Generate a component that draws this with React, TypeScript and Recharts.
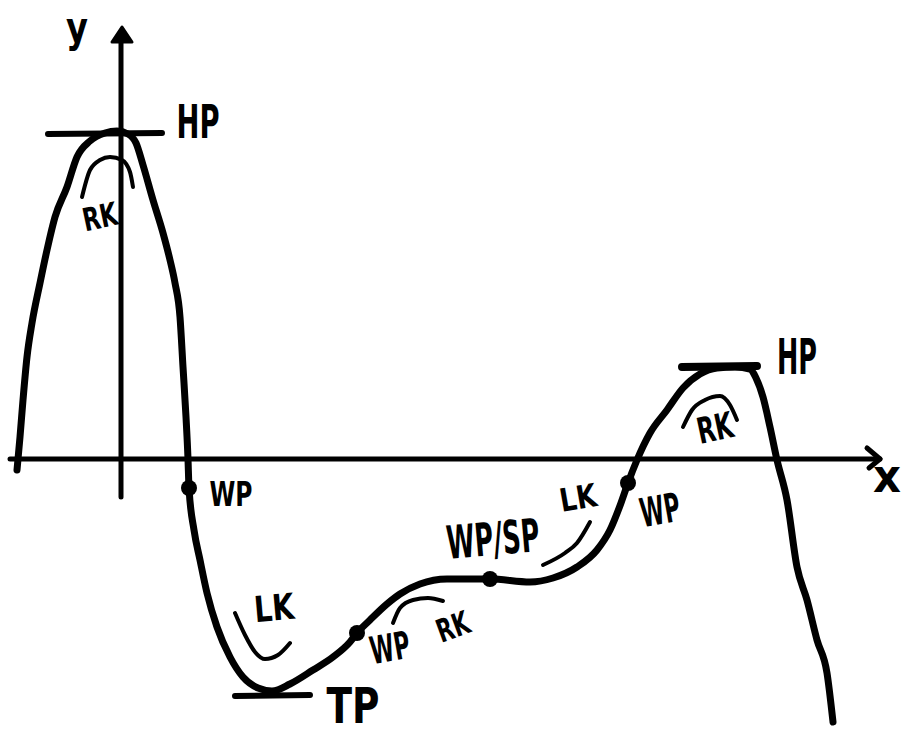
import React from 'react';
import { ComposedChart, Line, Scatter, XAxis, YAxis } from 'recharts';

// Sketch of a curve with its extrema (HP/TP), inflection points (WP) and
// curvature regions (RK = right-hand bend, LK = left-hand bend).
// Coordinates: x axis at v = 0, y axis at u = 0.

const curve = [
  { x: -104, y: -11 }, { x: -101, y: 22 }, { x: -98, y: 59 }, { x: -94, y: 102 },
  { x: -89, y: 136 }, { x: -81, y: 176 }, { x: -74, y: 209 }, { x: -66, y: 242 },
  { x: -54, y: 272 }, { x: -44, y: 302 }, { x: -31, y: 318 }, { x: -16, y: 326 },
  { x: -4, y: 328 }, { x: 7, y: 325 }, { x: 15, y: 316 }, { x: 22, y: 294 },
  { x: 32, y: 259 }, { x: 42, y: 226 }, { x: 49, y: 199 }, { x: 54, y: 176 },
  { x: 59, y: 142 }, { x: 62, y: 92 }, { x: 65, y: 42 }, { x: 67, y: 0 },
  { x: 68, y: -29 }, { x: 73, y: -71 }, { x: 79, y: -101 }, { x: 86, y: -134 },
  { x: 96, y: -168 }, { x: 109, y: -198 }, { x: 122, y: -218 }, { x: 137, y: -229 },
  { x: 151, y: -232 }, { x: 169, y: -225 }, { x: 192, y: -211 }, { x: 212, y: -198 },
  { x: 229, y: -183 }, { x: 236, y: -174 }, { x: 249, y: -161 }, { x: 266, y: -145 },
  { x: 279, y: -135 }, { x: 299, y: -125 }, { x: 326, y: -120 }, { x: 369, y: -120 },
  { x: 409, y: -123 }, { x: 432, y: -119 }, { x: 456, y: -108 }, { x: 476, y: -91 },
  { x: 489, y: -71 }, { x: 500, y: -44 }, { x: 507, y: -24 }, { x: 516, y: -1 },
  { x: 529, y: 26 }, { x: 546, y: 49 }, { x: 562, y: 71 }, { x: 579, y: 85 },
  { x: 596, y: 91 }, { x: 614, y: 92 }, { x: 629, y: 90 }, { x: 635, y: 81 },
  { x: 642, y: 62 }, { x: 649, y: 32 }, { x: 656, y: -1 }, { x: 666, y: -41 },
  { x: 676, y: -108 }, { x: 686, y: -141 }, { x: 696, y: -181 }, { x: 706, y: -214 },
  { x: 712, y: -263 },
];

// inflection / saddle points
const turningDots = [
  { x: 68, y: -29 },
  { x: 236, y: -174 },
  { x: 369, y: -120 },
  { x: 507, y: -24 },
];

// horizontal tangents at the extrema
const tangentHP1 = [{ x: -73, y: 325 }, { x: 41, y: 326 }];
const tangentTP = [{ x: 114, y: -237 }, { x: 189, y: -236 }];
const tangentHP2 = [{ x: 561, y: 92 }, { x: 636, y: 93 }];

// curvature arcs
const arcRK1 = [{ x: -39, y: 262 }, { x: -31, y: 289 }, { x: -21, y: 299 }, { x: -11, y: 302 }, { x: 1, y: 299 }, { x: 9, y: 287 }, { x: 12, y: 272 }];
const arcLK1 = [{ x: 114, y: -154 }, { x: 124, y: -176 }, { x: 134, y: -193 }, { x: 144, y: -200 }, { x: 157, y: -196 }, { x: 169, y: -184 }];
const arcRK2 = [{ x: 272, y: -164 }, { x: 279, y: -149 }, { x: 292, y: -141 }, { x: 307, y: -139 }, { x: 322, y: -142 }];
const arcLK2 = [{ x: 422, y: -106 }, { x: 444, y: -94 }, { x: 456, y: -84 }, { x: 469, y: -63 }];
const arcRK3 = [{ x: 562, y: 32 }, { x: 571, y: 49 }, { x: 584, y: 59 }, { x: 599, y: 63 }, { x: 609, y: 54 }, { x: 616, y: 39 }];

// coordinate axes
const xAxisLine = [{ x: -111, y: 0 }, { x: 759, y: 0 }];
const xArrow = [{ x: 746, y: 11 }, { x: 759, y: 0 }, { x: 748, y: -9 }];
const yAxisLine = [{ x: 0, y: -38 }, { x: 0, y: 424 }];
const yArrowTip = [{ x: 1, y: 424 }];

// annotation texts
const labels = [
  { id: 'hp1', text: 'HP', x: 77, y: 337 },
  { id: 'rk1', text: 'RK', x: -21, y: 242 },
  { id: 'wp1', text: 'WP', x: 110, y: -35 },
  { id: 'lk1', text: 'LK', x: 153, y: -149 },
  { id: 'tp', text: 'TP', x: 232, y: -247 },
  { id: 'wp2', text: 'WP', x: 269, y: -189 },
  { id: 'rk2', text: 'RK', x: 332, y: -168 },
  { id: 'wpsp', text: 'WP/SP', x: 372, y: -80 },
  { id: 'lk2', text: 'LK', x: 457, y: -39 },
  { id: 'wp3', text: 'WP', x: 539, y: -51 },
  { id: 'hp2', text: 'HP', x: 676, y: 102 },
  { id: 'rk3', text: 'RK', x: 594, y: 31 },
  { id: 'ylab', text: 'y', x: -44, y: 432 },
  { id: 'xlab', text: 'x', x: 766, y: -17 },
];

const labelLook: Record<string, { size: number; width: number; rotate: number }> = {
  hp1: { size: 46, width: 43, rotate: 0 },
  rk1: { size: 32, width: 35, rotate: -12 },
  wp1: { size: 34, width: 43, rotate: 0 },
  lk1: { size: 36, width: 40, rotate: -5 },
  tp: { size: 50, width: 53, rotate: 0 },
  wp2: { size: 38, width: 40, rotate: -10 },
  rk2: { size: 32, width: 33, rotate: -20 },
  wpsp: { size: 46, width: 93, rotate: -5 },
  lk2: { size: 32, width: 37, rotate: -10 },
  wp3: { size: 40, width: 40, rotate: -10 },
  hp2: { size: 50, width: 40, rotate: 0 },
  rk3: { size: 36, width: 36, rotate: -12 },
  ylab: { size: 42, width: 22, rotate: 0 },
  xlab: { size: 46, width: 28, rotate: 0 },
};

const INK = '#000';

const LabelShape = (props: any) => {
  const { cx, cy, payload } = props;
  const look = labelLook[payload.id];
  return (
    <text
      x={cx}
      y={cy}
      textAnchor="middle"
      dominantBaseline="central"
      fontFamily="DejaVu Sans"
      fontWeight="bold"
      fontSize={look.size}
      textLength={look.width}
      lengthAdjust="spacingAndGlyphs"
      fill={INK}
      transform={look.rotate ? `rotate(${look.rotate} ${cx} ${cy})` : undefined}
    >
      {payload.text}
    </text>
  );
};

const DotShape = (props: any) => <circle cx={props.cx} cy={props.cy} r={8} fill={INK} />;

const ArrowShape = (props: any) => {
  const { cx, cy } = props;
  return <path d={`M${cx} ${cy - 8} L${cx + 10} ${cy + 7} L${cx - 10} ${cy + 7} Z`} fill={INK} stroke={INK} strokeWidth={3} strokeLinejoin="round" />;
};

const seg = (key: string, data: any[], width: number, type: any = 'linear') => (
  <Line
    key={key}
    data={data}
    dataKey="y"
    type={type}
    stroke={INK}
    strokeWidth={width}
    strokeLinecap="round"
    strokeLinejoin="round"
    dot={false}
    activeDot={false}
    isAnimationActive={false}
  />
);

export default function App() {
  return (
    <div style={{ position: 'absolute', left: 0, top: 0, background: '#fff' }}>
      <ComposedChart width={909} height={737} margin={{ top: 0, right: 0, bottom: 0, left: 0 }}>
        <XAxis dataKey="x" type="number" domain={[-121, 788]} allowDataOverflow hide />
        <YAxis dataKey="y" type="number" domain={[-278, 459]} allowDataOverflow hide />
        {seg('xaxis', xAxisLine, 5)}
        {seg('xarrow', xArrow, 5)}
        {seg('yaxis', yAxisLine, 5)}
        {seg('hp1', tangentHP1, 6)}
        {seg('tp', tangentTP, 6)}
        {seg('hp2', tangentHP2, 8)}
        {seg('rk1', arcRK1, 4, 'monotone')}
        {seg('lk1', arcLK1, 4, 'monotone')}
        {seg('rk2', arcRK2, 4, 'monotone')}
        {seg('lk2', arcLK2, 4, 'monotone')}
        {seg('rk3', arcRK3, 4, 'monotone')}
        {seg('curve', curve, 7, 'monotone')}
        <Scatter data={yArrowTip} shape={ArrowShape} isAnimationActive={false} />
        <Scatter data={turningDots} shape={DotShape} isAnimationActive={false} />
        <Scatter data={labels} shape={LabelShape} isAnimationActive={false} />
      </ComposedChart>
    </div>
  );
}
